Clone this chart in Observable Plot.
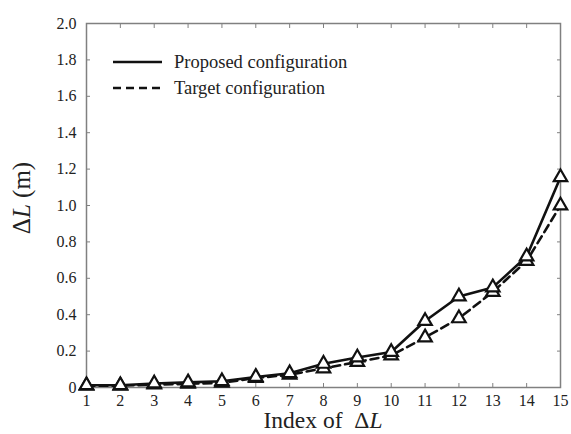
<!DOCTYPE html>
<html>
<head>
<meta charset="utf-8">
<script src="https://cdn.jsdelivr.net/npm/d3@7"></script>
<script src="https://cdn.jsdelivr.net/npm/@observablehq/plot@0.6"></script>
<style>
  html, body { margin: 0; padding: 0; background: #fff; }
  #wrap { position: relative; width: 571px; height: 434px; color: #222; overflow: hidden; }
  #wrap, #wrap * { font-family: "Liberation Serif", "DejaVu Serif", serif !important; }
  #wrap svg { display: block; }
  .title-x { position: absolute; left: 86px; width: 474px; top: 408.4px; text-align: center; font-size: 23.5px; line-height: 24px; }
  .title-y { position: absolute; left: 22px; top: 198px; font-size: 25px; line-height: 28px; white-space: nowrap; transform: translate(-50%, -50%) rotate(-90deg); }
  .legend { position: absolute; left: 113px; top: 49px; font-size: 18.5px; }
  .legend .row { display: flex; align-items: center; height: 26px; }
  .legend svg { margin-right: 12px; }
</style>
</head>
<body>
<div id="wrap"></div>
<script>
// Index of ΔL
const indices = [1, 2, 3, 4, 5, 6, 7, 8, 9, 10, 11, 12, 13, 14, 15];
// ΔL (m), proposed configuration
const proposed = [0.012, 0.012, 0.022, 0.028, 0.034, 0.058, 0.078, 0.13, 0.165, 0.195, 0.365, 0.50, 0.55, 0.72, 1.155];
// ΔL (m), target configuration
const target = [0.010, 0.010, 0.016, 0.020, 0.026, 0.052, 0.070, 0.105, 0.14, 0.176, 0.275, 0.38, 0.525, 0.695, 1.0];
const yTicks = [0, 0.2, 0.4, 0.6, 0.8, 1.0, 1.2, 1.4, 1.6, 1.8, 2.0];
const seriesNames = ["Proposed configuration", "Target configuration"];

const propData = indices.map((x, i) => ({x, y: proposed[i]}));
const targData = indices.map((x, i) => ({x, y: target[i]}));

const fmtY = d => d === 0 ? "0" : d.toFixed(1);

const chart = Plot.plot({
  width: 571,
  height: 434,
  marginLeft: 86,
  marginRight: 11,
  marginTop: 23,
  marginBottom: 47,
  style: {fontFamily: "'Liberation Serif', serif", background: "#fff", color: "#222"},
  x: {domain: [1, 15], ticks: indices},
  y: {domain: [0, 2], ticks: yTicks},
  marks: [
    Plot.frame({stroke: "#808080", strokeWidth: 1.5}),
    Plot.axisX({anchor: "bottom", ticks: indices, tickSize: -4, tickPadding: 11, stroke: "#808080", label: null, fontSize: 16, tickFormat: d => String(d)}),
    Plot.axisX({anchor: "top", ticks: indices, tickSize: -4, stroke: "#808080", label: null, tickFormat: () => ""}),
    Plot.axisY({anchor: "left", ticks: yTicks, tickSize: -4, tickPadding: 14, stroke: "#808080", label: null, fontSize: 16, tickFormat: fmtY}),
    Plot.axisY({anchor: "right", ticks: yTicks, tickSize: -4, stroke: "#808080", label: null, tickFormat: () => ""}),
    Plot.line(targData, {x: "x", y: "y", stroke: "#111", strokeWidth: 2.6, strokeDasharray: "8,5"}),
    Plot.line(propData, {x: "x", y: "y", stroke: "#111", strokeWidth: 2.6}),
    Plot.dot(targData, {x: "x", y: "y", symbol: "triangle", r: 5, stroke: "#111", strokeWidth: 2.2, fill: "#fff"}),
    Plot.dot(propData, {x: "x", y: "y", symbol: "triangle", r: 5, stroke: "#111", strokeWidth: 2.2, fill: "#fff"})
  ]
});

const wrap = document.getElementById("wrap");
wrap.appendChild(chart);

const xt = document.createElement("div");
xt.className = "title-x";
xt.innerHTML = "Index of&nbsp;&nbsp;Δ<i>L</i>";
wrap.appendChild(xt);

const yt = document.createElement("div");
yt.className = "title-y";
yt.innerHTML = "Δ<i>L</i> (m)";
wrap.appendChild(yt);

const lg = document.createElement("div");
lg.className = "legend";
const dashes = ["", "8,5"];
lg.innerHTML = seriesNames.map((name, i) =>
  `<div class="row"><svg width="49" height="6"><line x1="0" x2="49" y1="3" y2="3" stroke="#111" stroke-width="2.6" stroke-dasharray="${dashes[i]}"/></svg><span>${name}</span></div>`
).join("");
wrap.appendChild(lg);
</script>
</body>
</html>
